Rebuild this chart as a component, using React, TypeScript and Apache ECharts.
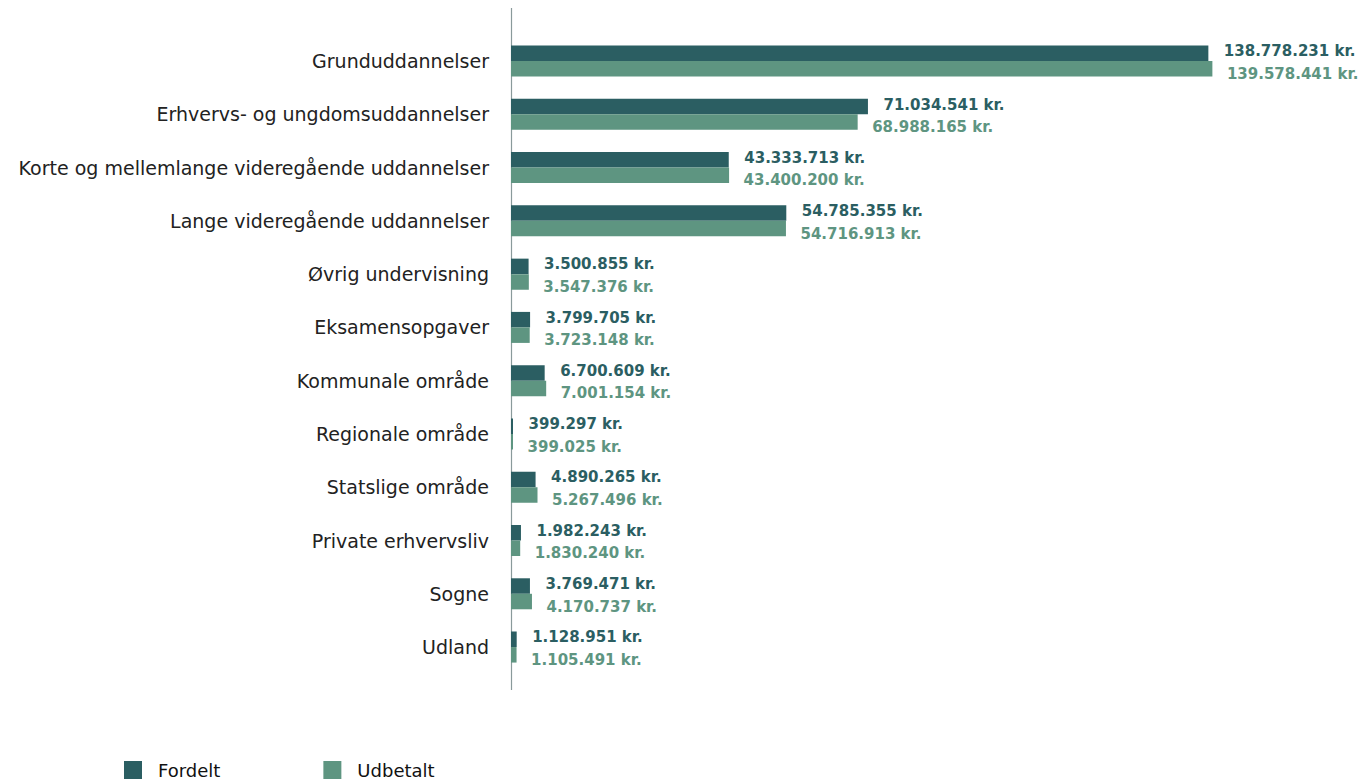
import React, { useEffect, useRef } from "react";
import * as echarts from "echarts";

const categories = [
  "Grunduddannelser",
  "Erhvervs- og ungdomsuddannelser",
  "Korte og mellemlange videregående uddannelser",
  "Lange videregående uddannelser",
  "Øvrig undervisning",
  "Eksamensopgaver",
  "Kommunale område",
  "Regionale område",
  "Statslige område",
  "Private erhvervsliv",
  "Sogne",
  "Udland",
];

const fordelt = [
  138778231, 71034541, 43333713, 54785355, 3500855, 3799705, 6700609, 399297,
  4890265, 1982243, 3769471, 1128951,
];

const udbetalt = [
  139578441, 68988165, 43400200, 54716913, 3547376, 3723148, 7001154, 399025,
  5267496, 1830240, 4170737, 1105491,
];

const seriesNames = ["Fordelt", "Udbetalt"];

const DARK = "#2b5e62";
const LIGHT = "#5e9581";
const FONT = "'DejaVu Sans', sans-serif";

function fmt(v: number): string {
  return v.toString().replace(/\B(?=(\d{3})+(?!\d))/g, ".") + " kr.";
}

export default function App() {
  const ref = useRef<HTMLDivElement>(null);
  useEffect(() => {
    document.body.style.margin = "0";
    if (!ref.current) return;
    const chart = echarts.init(ref.current, null, { renderer: "svg" });
    chart.setOption({
      animation: false,
      textStyle: { fontFamily: FONT },
      grid: { left: 511, width: 804, top: 34.4, height: 639.3, containLabel: false },
      legend: {
        left: 124,
        top: 761,
        padding: 0,
        itemWidth: 18,
        itemHeight: 18,
        itemGap: 103,
        icon: "rect",
        textStyle: { fontSize: 18, color: "#111", fontFamily: FONT, padding: [0, 0, 0, 11] },
        data: seriesNames,
      },
      xAxis: {
        type: "value",
        min: 0,
        max: 160000000,
        show: false,
      },
      yAxis: {
        type: "category",
        data: categories,
        inverse: true,
        axisLine: { show: false },
        axisTick: { show: false },
        splitLine: { show: false },
        axisLabel: { fontSize: 19, color: "#222", margin: 22, fontFamily: FONT },
      },
      graphic: [
        {
          type: "line",
          shape: { x1: 511.5, y1: 8, x2: 511.5, y2: 690 },
          style: { stroke: "#8a9a9b", lineWidth: 1.2 },
        },
      ],
      series: [
        {
          name: seriesNames[0],
          type: "bar",
          data: fordelt,
          barWidth: 15.5,
          barGap: "0%",
          itemStyle: { color: DARK },
          label: {
            show: true,
            position: "right",
            distance: 15.5,
            offset: [0, -2],
            formatter: (p: any) => fmt(p.value),
            color: DARK,
            fontWeight: "bold",
            fontSize: 15,
            fontFamily: FONT,
          },
        },
        {
          name: seriesNames[1],
          type: "bar",
          data: udbetalt,
          barWidth: 15.5,
          itemStyle: { color: LIGHT },
          label: {
            show: true,
            position: "right",
            distance: 14.5,
            offset: [0, 5],
            formatter: (p: any) => fmt(p.value),
            color: LIGHT,
            fontWeight: "bold",
            fontSize: 15,
            fontFamily: FONT,
          },
        },
      ],
    });
    return () => chart.dispose();
  }, []);
  return <div ref={ref} style={{ width: 1368, height: 780 }} />;
}
